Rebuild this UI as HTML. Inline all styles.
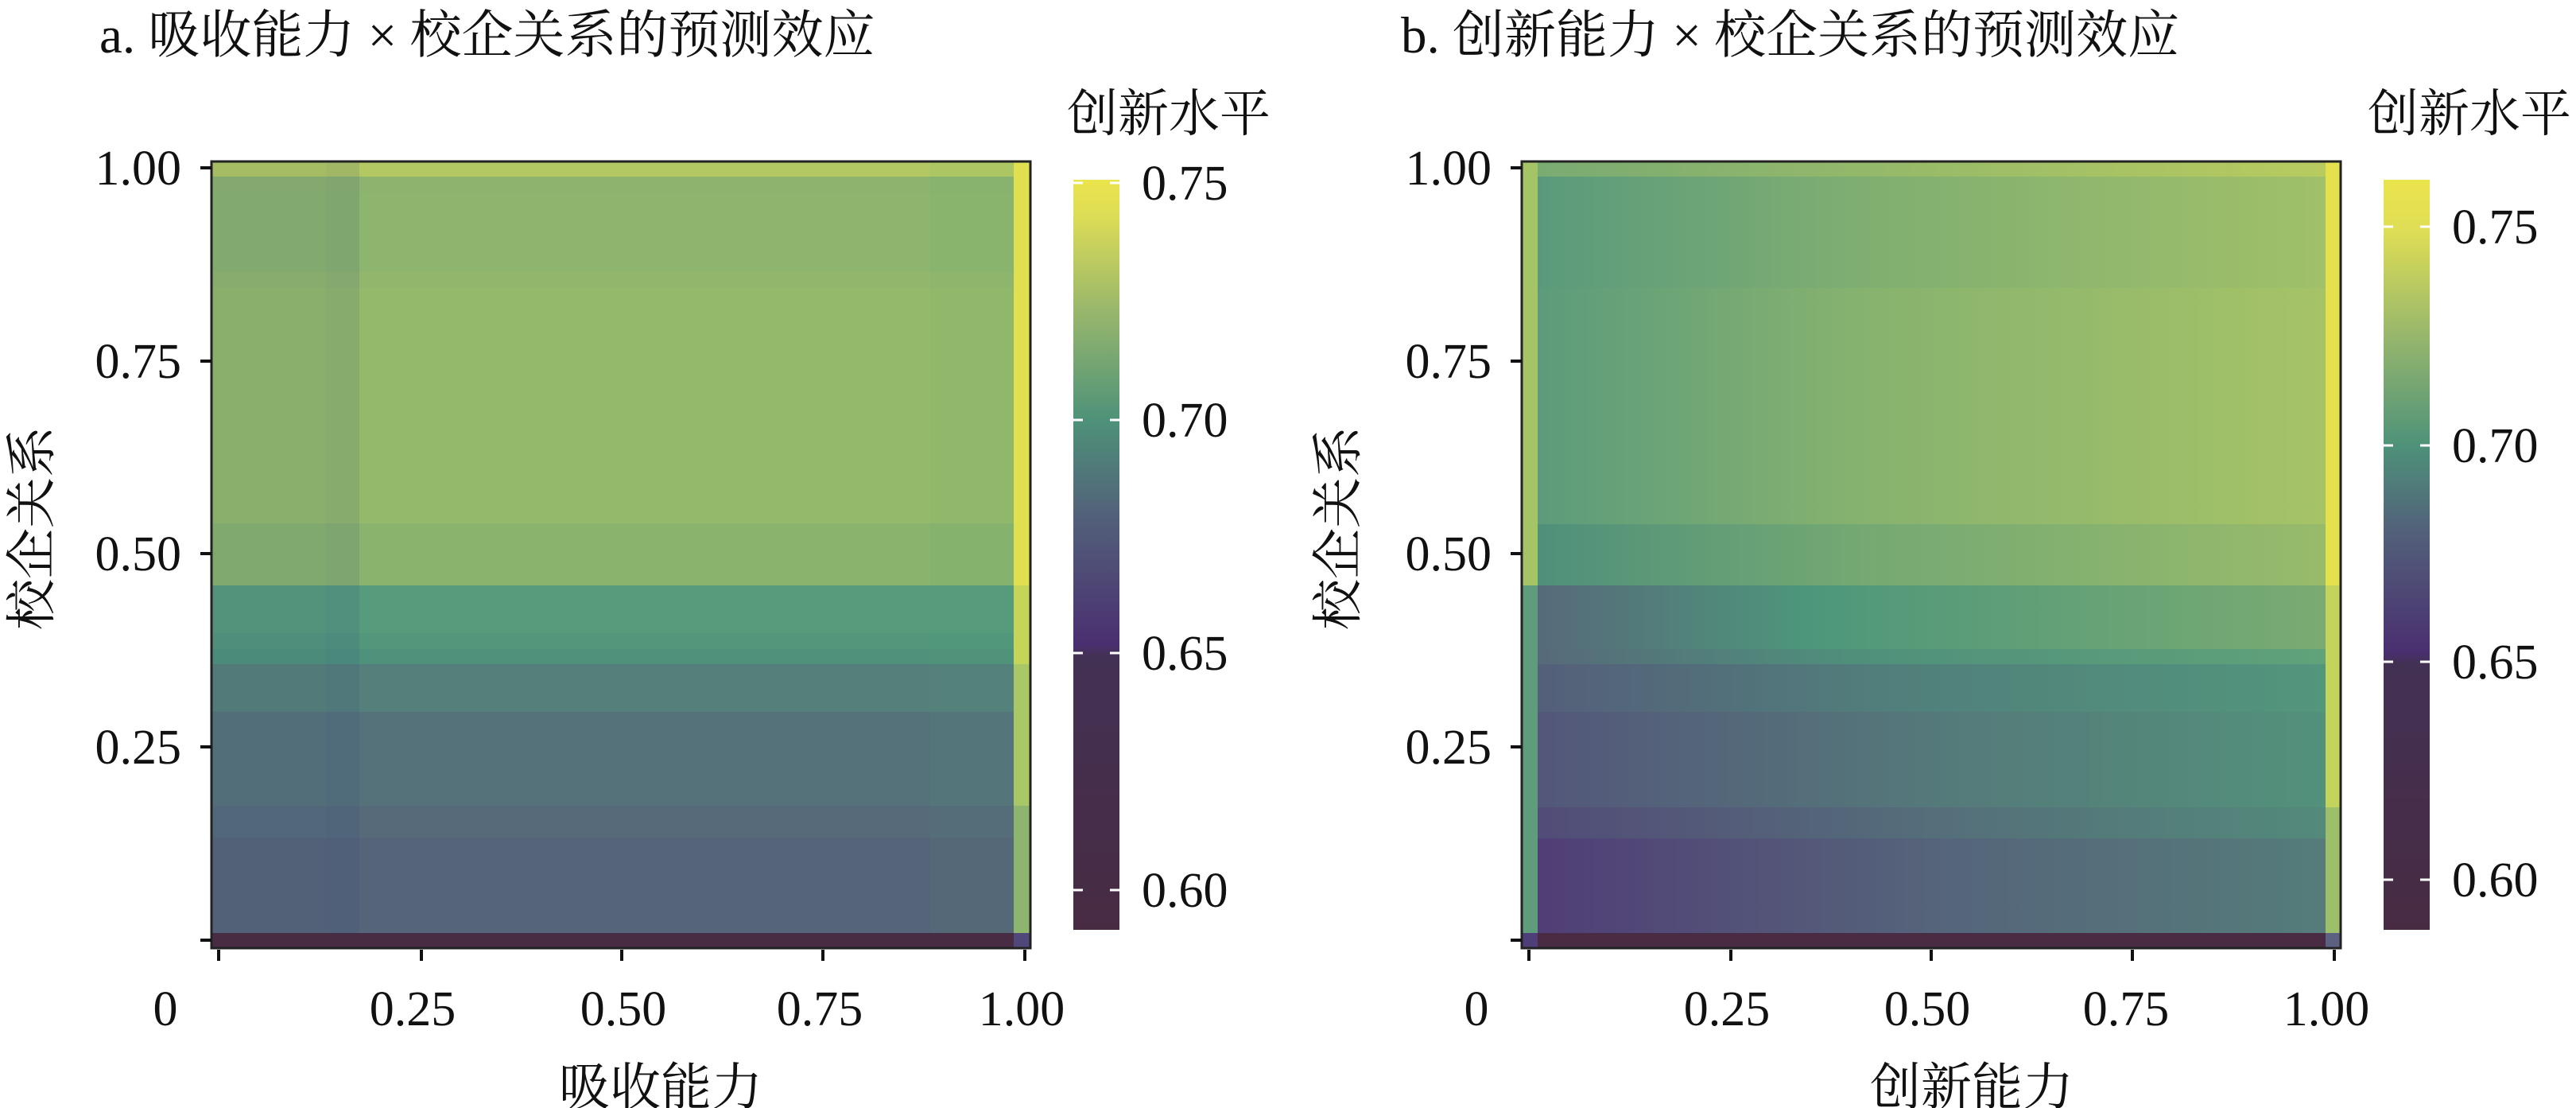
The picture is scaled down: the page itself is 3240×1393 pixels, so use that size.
<!DOCTYPE html>
<html><head><meta charset="utf-8"><style>
html,body{margin:0;padding:0;background:#fff;}
svg{display:block;}
text{font-family:"Liberation Serif","Noto Serif CJK SC",serif;fill:#111;}
</style></head><body>
<svg width="3240" height="1393" viewBox="0 0 3240 1393" xmlns="http://www.w3.org/2000/svg">
<defs>
<linearGradient id="cba" x1="0" y1="0" x2="0" y2="1">
<stop offset="0" stop-color="#ebe44d"/>
<stop offset="0.05" stop-color="#dcdc56"/>
<stop offset="0.17" stop-color="#9bb86b"/>
<stop offset="0.32" stop-color="#4e9279"/>
<stop offset="0.45" stop-color="#52607a"/>
<stop offset="0.62" stop-color="#4a2f70"/>
<stop offset="0.635" stop-color="#433154"/>
<stop offset="1" stop-color="#482b43"/>
</linearGradient>
<linearGradient id="cbb" x1="0" y1="0" x2="0" y2="1">
<stop offset="0" stop-color="#ebe44d"/>
<stop offset="0.07" stop-color="#dedd55"/>
<stop offset="0.21" stop-color="#96b66d"/>
<stop offset="0.354" stop-color="#4e9279"/>
<stop offset="0.47" stop-color="#52607a"/>
<stop offset="0.63" stop-color="#4a2f70"/>
<stop offset="0.645" stop-color="#433154"/>
<stop offset="1" stop-color="#482b43"/>
</linearGradient>
<linearGradient id="b1" x1="0" x2="1"><stop offset="0" stop-color="#7aab72"/><stop offset="1" stop-color="#b8cb5f"/></linearGradient>
<linearGradient id="b2" x1="0" x2="1"><stop offset="0" stop-color="#5a9a7c"/><stop offset="0.4" stop-color="#7fae71"/><stop offset="1" stop-color="#a0c069"/></linearGradient>
<linearGradient id="b3" x1="0" x2="1"><stop offset="0" stop-color="#5c9b7b"/><stop offset="0.4" stop-color="#86b26f"/><stop offset="1" stop-color="#a6c367"/></linearGradient>
<linearGradient id="b4" x1="0" x2="1"><stop offset="0" stop-color="#4f907b"/><stop offset="0.4" stop-color="#74a873"/><stop offset="1" stop-color="#98bb6b"/></linearGradient>
<linearGradient id="b5" x1="0" x2="1"><stop offset="0" stop-color="#566a7a"/><stop offset="0.35" stop-color="#4e977b"/><stop offset="1" stop-color="#7aab72"/></linearGradient>
<linearGradient id="b6" x1="0" x2="1"><stop offset="0" stop-color="#566a7a"/><stop offset="0.4" stop-color="#4f907b"/><stop offset="1" stop-color="#60a27a"/></linearGradient>
<linearGradient id="b7" x1="0" x2="1"><stop offset="0" stop-color="#545f7a"/><stop offset="0.45" stop-color="#517f7b"/><stop offset="1" stop-color="#52967c"/></linearGradient>
<linearGradient id="b8" x1="0" x2="1"><stop offset="0" stop-color="#53577a"/><stop offset="0.5" stop-color="#55797a"/><stop offset="1" stop-color="#53917b"/></linearGradient>
<linearGradient id="b9" x1="0" x2="1"><stop offset="0" stop-color="#524c78"/><stop offset="0.5" stop-color="#556e7a"/><stop offset="1" stop-color="#538a7b"/></linearGradient>
<linearGradient id="b10" x1="0" x2="1"><stop offset="0" stop-color="#503e76"/><stop offset="0.5" stop-color="#55647a"/><stop offset="1" stop-color="#557c7a"/></linearGradient>
</defs>

<!-- PANEL A -->
<text x="125" y="66" font-size="65">a. 吸收能力 × 校企关系的预测效应</text>
<g>
<rect x="266" y="203" width="1009" height="19" fill="#b3c862"/>
<rect x="266" y="222" width="1009" height="21" fill="#8db46e"/>
<rect x="266" y="243" width="1009" height="99" fill="#8db56e"/>
<rect x="266" y="342" width="1009" height="20" fill="#92b76c"/>
<rect x="266" y="362" width="1009" height="296" fill="#95b96b"/>
<rect x="266" y="658" width="1009" height="78" fill="#8ab46e"/>
<rect x="266" y="736" width="1009" height="60" fill="#579b7d"/>
<rect x="266" y="796" width="1009" height="20" fill="#52967c"/>
<rect x="266" y="816" width="1009" height="19" fill="#4f927b"/>
<rect x="266" y="835" width="1009" height="60" fill="#557f7a"/>
<rect x="266" y="895" width="1009" height="118" fill="#55727a"/>
<rect x="266" y="1013" width="1009" height="40" fill="#566a7a"/>
<rect x="266" y="1053" width="1009" height="120" fill="#566479"/>
<rect x="266" y="1173" width="1030" height="19" fill="#482c44"/>
<rect x="266" y="203" width="144" height="970" fill="rgba(50,80,120,0.10)"/>
<rect x="410" y="203" width="42" height="970" fill="rgba(50,70,120,0.13)"/>
<rect x="1170" y="203" width="105" height="970" fill="rgba(60,170,120,0.06)"/>
<rect x="1275" y="203" width="21" height="533" fill="#e0df50"/>
<rect x="1275" y="736" width="21" height="99" fill="#c6d55a"/>
<rect x="1275" y="835" width="21" height="178" fill="#aac767"/>
<rect x="1275" y="1013" width="21" height="160" fill="#8eb56e"/>
<rect x="1275" y="1173" width="21" height="19" fill="#4f4878"/>
<rect x="266" y="203" width="1030" height="989" fill="none" stroke="#222" stroke-width="3"/>
</g>
<g stroke="#111" stroke-width="4">
<line x1="252" y1="211" x2="266" y2="211"/>
<line x1="252" y1="454" x2="266" y2="454"/>
<line x1="252" y1="696" x2="266" y2="696"/>
<line x1="252" y1="939" x2="266" y2="939"/>
<line x1="252" y1="1182" x2="266" y2="1182"/>
<line x1="275" y1="1194" x2="275" y2="1208"/>
<line x1="530" y1="1194" x2="530" y2="1208"/>
<line x1="782" y1="1194" x2="782" y2="1208"/>
<line x1="1035" y1="1194" x2="1035" y2="1208"/>
<line x1="1289" y1="1194" x2="1289" y2="1208"/>
</g>
<g font-size="62" text-anchor="end">
<text x="228" y="232">1.00</text>
<text x="228" y="475">0.75</text>
<text x="228" y="717">0.50</text>
<text x="228" y="960">0.25</text>
</g>
<g font-size="62" text-anchor="middle">
<text x="208" y="1289">0</text>
<text x="519" y="1289">0.25</text>
<text x="784" y="1289">0.50</text>
<text x="1031" y="1289">0.75</text>
<text x="1285" y="1289">1.00</text>
</g>
<text x="831" y="1389" font-size="64" text-anchor="middle">吸收能力</text>
<text transform="translate(62,664) rotate(-90)" font-size="64" text-anchor="middle">校企关系</text>
<text x="1342" y="165" font-size="64">创新水平</text>
<rect x="1350" y="226" width="58" height="943" fill="url(#cba)"/>
<g stroke="#fff" stroke-width="3">
<line x1="1350" y1="230" x2="1362" y2="230"/><line x1="1396" y1="230" x2="1408" y2="230"/>
<line x1="1350" y1="528" x2="1362" y2="528"/><line x1="1396" y1="528" x2="1408" y2="528"/>
<line x1="1350" y1="821" x2="1362" y2="821"/><line x1="1396" y1="821" x2="1408" y2="821"/>
<line x1="1350" y1="1119" x2="1362" y2="1119"/><line x1="1396" y1="1119" x2="1408" y2="1119"/>
</g>
<g font-size="62">
<text x="1436" y="251">0.75</text>
<text x="1436" y="549">0.70</text>
<text x="1436" y="842">0.65</text>
<text x="1436" y="1140">0.60</text>
</g>

<!-- PANEL B -->
<text x="1762" y="66" font-size="65">b. 创新能力 × 校企关系的预测效应</text>
<g>
<rect x="1934" y="203" width="991" height="19" fill="url(#b1)"/>
<rect x="1934" y="222" width="991" height="140" fill="url(#b2)"/>
<rect x="1934" y="362" width="991" height="297" fill="url(#b3)"/>
<rect x="1934" y="659" width="991" height="77" fill="url(#b4)"/>
<rect x="1934" y="736" width="991" height="80" fill="url(#b5)"/>
<rect x="1934" y="816" width="991" height="19" fill="url(#b6)"/>
<rect x="1934" y="835" width="991" height="60" fill="url(#b7)"/>
<rect x="1934" y="895" width="991" height="120" fill="url(#b8)"/>
<rect x="1934" y="1015" width="991" height="39" fill="url(#b9)"/>
<rect x="1934" y="1054" width="991" height="119" fill="url(#b10)"/>
<rect x="1914" y="1173" width="1030" height="19" fill="#4a2b44"/>
<rect x="1914" y="1173" width="20" height="19" fill="#4f3f78"/>
<rect x="2925" y="1173" width="19" height="19" fill="#5c6182"/>
<rect x="1914" y="203" width="20" height="533" fill="#a4c466"/>
<rect x="1914" y="736" width="20" height="437" fill="#5e9c7b"/>
<rect x="2925" y="203" width="19" height="533" fill="#e4e04e"/>
<rect x="2925" y="736" width="19" height="279" fill="#c4d35c"/>
<rect x="2925" y="1015" width="19" height="158" fill="#9ebf69"/>
<rect x="1914" y="203" width="1030" height="989" fill="none" stroke="#222" stroke-width="3"/>
</g>
<g stroke="#111" stroke-width="4">
<line x1="1900" y1="211" x2="1914" y2="211"/>
<line x1="1900" y1="454" x2="1914" y2="454"/>
<line x1="1900" y1="696" x2="1914" y2="696"/>
<line x1="1900" y1="939" x2="1914" y2="939"/>
<line x1="1900" y1="1182" x2="1914" y2="1182"/>
<line x1="1923" y1="1194" x2="1923" y2="1208"/>
<line x1="2177" y1="1194" x2="2177" y2="1208"/>
<line x1="2429" y1="1194" x2="2429" y2="1208"/>
<line x1="2682" y1="1194" x2="2682" y2="1208"/>
<line x1="2936" y1="1194" x2="2936" y2="1208"/>
</g>
<g font-size="62" text-anchor="end">
<text x="1876" y="232">1.00</text>
<text x="1876" y="475">0.75</text>
<text x="1876" y="717">0.50</text>
<text x="1876" y="960">0.25</text>
</g>
<g font-size="62" text-anchor="middle">
<text x="1857" y="1289">0</text>
<text x="2172" y="1289">0.25</text>
<text x="2424" y="1289">0.50</text>
<text x="2674" y="1289">0.75</text>
<text x="2926" y="1289">1.00</text>
</g>
<text x="2480" y="1389" font-size="64" text-anchor="middle">创新能力</text>
<text transform="translate(1705,664) rotate(-90)" font-size="64" text-anchor="middle">校企关系</text>
<text x="2978" y="165" font-size="64">创新水平</text>
<rect x="2998" y="226" width="58" height="943" fill="url(#cbb)"/>
<g stroke="#fff" stroke-width="3">
<line x1="2998" y1="285" x2="3010" y2="285"/><line x1="3044" y1="285" x2="3056" y2="285"/>
<line x1="2998" y1="560" x2="3010" y2="560"/><line x1="3044" y1="560" x2="3056" y2="560"/>
<line x1="2998" y1="832" x2="3010" y2="832"/><line x1="3044" y1="832" x2="3056" y2="832"/>
<line x1="2998" y1="1106" x2="3010" y2="1106"/><line x1="3044" y1="1106" x2="3056" y2="1106"/>
</g>
<g font-size="62">
<text x="3084" y="306">0.75</text>
<text x="3084" y="581">0.70</text>
<text x="3084" y="853">0.65</text>
<text x="3084" y="1127">0.60</text>
</g>
</svg>
</body></html>
